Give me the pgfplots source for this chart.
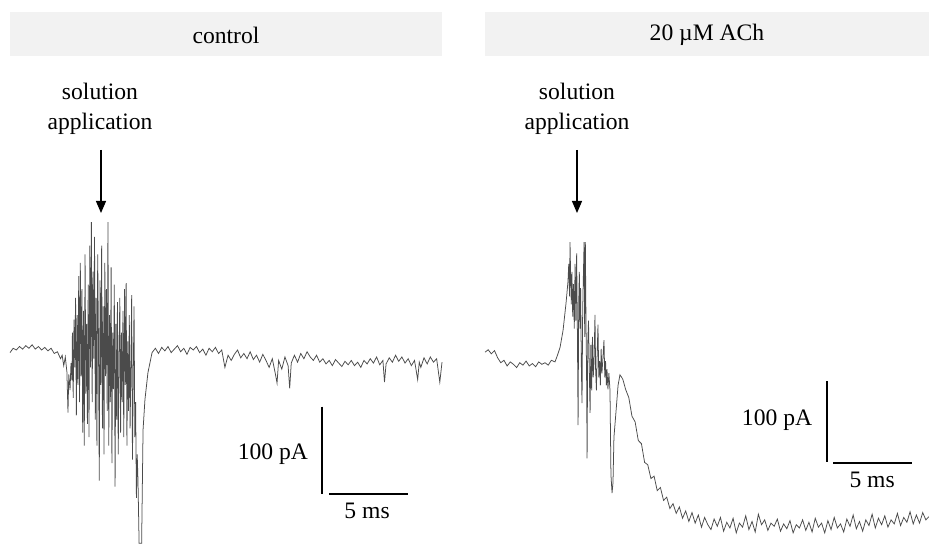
\documentclass[border=0pt]{standalone}
\usepackage{fontspec}
\setmainfont{Liberation Serif}
\usepackage{pgfplots}
\pgfplotsset{compat=1.18}
\usetikzlibrary{arrows.meta}
\definecolor{hdrgray}{RGB}{242,242,242}
\definecolor{trace}{RGB}{75,75,75}

% one panel = one hidden axis, x in ms, y in pA
\pgfplotsset{trc/.style={hide axis, scale only axis, clip=false, anchor=south west,
  xmin=0, ymin=-230, ymax=160},
  sbar/.style={black, line width=1pt},
  sig/.style={trace, line width=0.38pt}}
\newcommand{\lbl}{\fontsize{11.8}{15}\selectfont}

\begin{document}
\begin{tikzpicture}
\useasboundingbox (0pt,0pt) rectangle (464.5pt,272.5pt);

% headers
\fill[hdrgray] (5pt,244.5pt) rectangle (221pt,266.5pt);
\fill[hdrgray] (242.5pt,244.5pt) rectangle (464.5pt,266.5pt);
\node[font=\lbl] at (113pt,255pt) {control};
\node[font=\lbl] at (353.5pt,255pt) {20 µM ACh};

% solution application markers
\node[font=\lbl, align=center] at (50pt,218pt) {solution\\application};
\node[font=\lbl, align=center] at (288.5pt,218pt) {solution\\application};
\draw[line width=0.6pt, -{Triangle[length=6pt,width=5pt]}] (50.5pt,197.5pt) -- (50.5pt,166pt);
\draw[line width=0.6pt, -{Triangle[length=6pt,width=5pt]}] (288.5pt,197.5pt) -- (288.5pt,166pt);

% ---- control ----
\begin{axis}[trc, at={(5pt,-2.55pt)}, width=216pt, height=169.65pt, xmax=27.34]
\addplot[sig] coordinates {
(0,-3)(0.2,2)(0.4,0)(0.6,4)(0.8,1)(1.0,5)(1.2,2)(1.4,6)(1.6,1)(1.8,4)(2.0,0)(2.2,3)(2.4,-1)
(2.6,2)(2.8,-4)(3.0,-2)(3.2,-10)(3.3,-6)(3.4,-18)(3.5,-8)(3.6,-25)(3.67,-72)(3.72,-28)
(3.8,-46)(3.86,-15)(3.92,-35)
(3.95,20)(4.00,-55)(4.05,35)(4.10,-20)(4.15,60)(4.20,-75)(4.25,40)(4.30,-40)(4.35,85)
(4.40,-60)(4.45,100)(4.50,-30)(4.55,70)(4.60,-95)(4.65,45)(4.70,-110)(4.75,110)(4.80,-50)
(4.85,30)(4.90,-85)(4.95,75)(5.00,-100)(5.05,120)(5.10,-20)(5.15,147)(5.20,-60)(5.25,90)
(5.30,-10)(5.35,130)(5.40,-80)(5.45,60)(5.50,-110)(5.55,110)(5.60,10)(5.65,-150)(5.70,80)
(5.75,-40)(5.80,120)(5.85,-90)(5.90,50)(5.95,-120)(6.00,100)(6.05,-30)(6.10,70)(6.15,-70)
(6.20,147)(6.25,-110)(6.30,40)(6.35,-60)(6.40,95)(6.45,-130)(6.50,20)(6.55,-45)(6.60,75)
(6.65,-157)(6.70,30)(6.75,-80)(6.80,55)(6.85,-120)(6.90,-10)(6.95,60)(7.00,-95)(7.05,20)
(7.10,-60)(7.15,45)(7.20,-100)(7.25,70)(7.30,-40)(7.35,77)(7.40,-110)(7.45,10)(7.50,-70)
(7.55,40)(7.60,-90)(7.65,-20)(7.70,63)(7.75,-126)(7.80,-30)(7.85,50)(7.90,-100)(7.95,-60)
(8.00,-170)(8.05,-120)(8.10,-150)(8.17,-222)(8.33,-222)(8.42,-92)(8.54,-57)(8.73,-26)
(8.99,-3)
(9.2,2)(9.4,-4)(9.6,3)(9.8,-1)(10.0,4)(10.2,-3)(10.4,1)(10.6,5)(10.8,-2)(11.0,2)(11.2,-5)
(11.4,3)(11.6,0)(11.8,4)(12.0,-3)(12.2,1)(12.4,-6)(12.6,2)(12.8,-2)(13.0,3)(13.2,-4)(13.4,0)
(13.6,-20)(13.8,-6)(14.0,-12)(14.2,-5)(14.4,0)(14.6,-9)(14.8,-4)(15.0,-10)(15.2,-2)(15.4,-11)
(15.6,-6)(15.8,-14)(16.0,-5)(16.2,-12)(16.4,-20)(16.6,-10)(16.8,-28)(16.9,-38)(17.0,-12)
(17.2,-22)(17.4,-8)(17.6,-18)(17.7,-44)(17.8,-15)(18.0,-6)(18.2,-14)(18.4,-4)(18.6,-10)
(18.8,-2)(19.0,-8)(19.2,-12)(19.4,-6)(19.6,-14)(19.8,-10)(20.0,-16)(20.2,-12)(20.4,-18)
(20.6,-11)(20.8,-15)(21.0,-19)(21.2,-13)(21.4,-17)(21.6,-12)(21.8,-18)(22.0,-14)(22.2,-20)
(22.4,-12)(22.6,-16)(22.8,-10)(23.0,-15)(23.2,-8)(23.4,-17)(23.6,-12)(23.7,-37)(23.8,-16)
(24.0,-9)(24.2,-14)(24.4,-6)(24.6,-13)(24.8,-8)(25.0,-15)(25.2,-10)(25.4,-18)(25.6,-12)
(25.8,-34)(25.9,-14)(26.0,-20)(26.2,-9)(26.4,-16)(26.6,-8)(26.8,-14)(27.0,-10)(27.2,-37)
(27.34,-14)};
% scale bars: 100 pA, 5 ms
\addplot[sbar] coordinates {(19.75,-65)(19.75,-165)};
\addplot[sbar] coordinates {(20.2,-166)(25.2,-166)};
\node[font=\lbl, anchor=east] at (axis cs:19.3,-120) {100 pA};
\node[font=\lbl] at (axis cs:22.6,-185) {5 ms};
\end{axis}

% ---- 20 uM ACh ----
\begin{axis}[trc, at={(242.5pt,2.85pt)}, width=222pt, height=157.95pt, xmax=28.1]
\addplot[sig] coordinates {
(0.0,1)(0.2,4)(0.4,-1)(0.6,3)(0.8,-6)(1.0,-12)(1.2,-9)(1.4,-16)(1.6,-11)(1.8,-14)(2.0,-18)
(2.2,-12)(2.4,-15)(2.6,-10)(2.8,-16)(3.0,-13)(3.2,-17)(3.4,-11)(3.6,-14)(3.8,-12)(4.0,-15)
(4.2,-9)(4.43,-11)(4.6,-2)(4.75,7)(4.94,28)(5.13,62)
(5.25,88)(5.30,110)(5.35,70)(5.38,137)(5.42,95)(5.46,60)(5.50,100)(5.55,45)(5.60,85)
(5.65,30)(5.70,110)(5.75,40)(5.80,123)(5.85,20)(5.89,-89)(5.93,60)(5.97,100)(6.01,30)
(6.05,80)(6.10,-20)(6.14,-62)(6.18,50)(6.22,90)(6.27,137)(6.31,20)(6.35,137)(6.39,40)
(6.43,-30)(6.46,-130)(6.50,10)(6.55,40)(6.60,-20)(6.65,-74)(6.70,10)(6.75,-46)(6.80,20)
(6.85,-30)(6.90,-10)(6.96,47)(7.00,-20)(7.05,-46)(7.10,0)(7.15,35)(7.20,-30)(7.25,-10)
(7.30,-40)(7.35,5)(7.40,-25)(7.45,-10)(7.53,16)(7.58,-30)(7.63,-10)(7.68,-40)(7.72,-20)
(7.78,-45)(7.84,-25)(7.91,-46)(7.97,-150)(8.04,-173)(8.10,-160)(8.16,-104)(8.30,-70)
(8.42,-40)(8.54,-27)(8.65,-30)(8.73,-33)
(8.9,-45)(9.1,-55)(9.3,-78)(9.5,-85)(9.7,-108)(9.9,-112)(10.1,-135)(10.3,-138)(10.5,-155)
(10.7,-152)(10.9,-170)(11.1,-166)(11.3,-182)(11.5,-178)(11.7,-192)(11.9,-186)(12.1,-198)
(12.3,-190)(12.5,-204)(12.7,-195)(12.9,-208)(13.1,-197)(13.3,-210)(13.5,-200)(13.7,-215)
(13.9,-203)(14.1,-212)(14.3,-218)(14.5,-205)(14.7,-214)(14.9,-203)(15.1,-220)(15.3,-209)
(15.5,-216)(15.7,-204)(15.9,-222)(16.1,-210)(16.3,-215)(16.5,-201)(16.7,-218)(16.9,-208)
(17.1,-221)(17.3,-199)(17.5,-212)(17.7,-206)(17.9,-219)(18.1,-210)(18.3,-214)(18.5,-205)
(18.7,-220)(18.9,-211)(19.1,-217)(19.3,-207)(19.5,-222)(19.7,-212)(19.9,-216)(20.1,-206)
(20.3,-219)(20.5,-209)(20.7,-221)(20.9,-204)(21.1,-215)(21.3,-210)(21.5,-222)(21.7,-207)
(21.9,-218)(22.1,-203)(22.3,-216)(22.5,-211)(22.7,-221)(22.9,-205)(23.1,-214)(23.3,-200)
(23.5,-217)(23.7,-208)(23.9,-220)(24.1,-206)(24.3,-213)(24.5,-199)(24.7,-216)(24.9,-204)
(25.1,-212)(25.3,-201)(25.5,-215)(25.7,-206)(25.9,-211)(26.1,-198)(26.3,-213)(26.5,-203)
(26.7,-209)(26.9,-196)(27.1,-211)(27.3,-200)(27.5,-210)(27.7,-197)(27.9,-206)(28.1,-202)};
\addplot[sbar] coordinates {(21.65,-35)(21.65,-135)};
\addplot[sbar] coordinates {(22.03,-136)(27.03,-136)};
\node[font=\lbl, anchor=east] at (axis cs:21.15,-83) {100 pA};
\node[font=\lbl] at (axis cs:24.5,-157) {5 ms};
\end{axis}
\end{tikzpicture}
\end{document}
